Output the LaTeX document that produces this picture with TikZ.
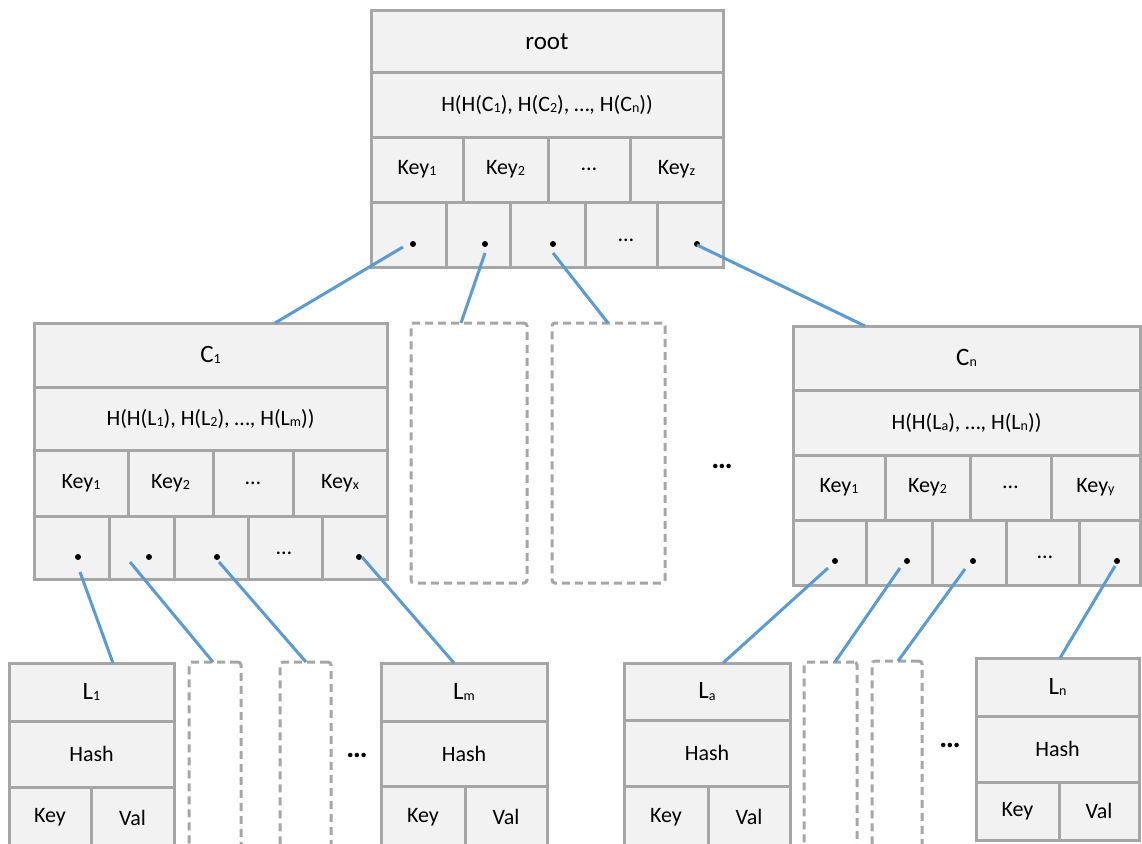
\documentclass[tikz,border=0pt]{standalone}
\usepackage{fontspec}
\setmainfont{Carlito}
\definecolor{boxgray}{HTML}{A6A6A6}
\definecolor{boxfill}{HTML}{F2F2F2}
\definecolor{linkblue}{HTML}{5B9BD5}
% small subscript as set in the cells
\newcommand\sbs[1]{\raisebox{-0.1ex}{\fontsize{14}{14}\selectfont #1}}
% a rectangular cell given by its corners (x1,y1) and (x2,y2)
\newcommand\boxat[7][cell]{%
  \node[#1, minimum width={(#5-#3)*1pt}, minimum height={(#6-#4)*1pt}]
    (#2) at ({(#3+#5)/2},{(#4+#6)/2}) {#7};}
\begin{document}
\begin{tikzpicture}[x=1pt,y=-1pt,
  cell/.style={draw=boxgray, fill=boxfill, line width=3pt, inner sep=0pt,
    outer sep=0pt, font=\fontsize{22}{26}\selectfont},
  titlecell/.style={cell, font=\fontsize{25}{28}\selectfont},
  dashbox/.style={draw=boxgray, line width=3pt, dash pattern=on 8pt off 5pt,
    rounded corners=3pt, inner sep=0pt, outer sep=0pt},
  ptrdot/.style={circle, fill=black, inner sep=0pt, minimum size=6pt},
  ell/.style={inner sep=0pt, font=\fontsize{22}{26}\selectfont},
  bigell/.style={inner sep=0pt, font=\fontsize{30}{32}\selectfont\bfseries},
  link/.style={draw=linkblue, line width=3pt}]
\useasboundingbox (0,0) rectangle (1142,843);
\clip (0,0) rectangle (1142,843);

% ---------- root ----------
\boxat[titlecell]{rootT}{371}{11}{723}{72}{root}
\boxat{rootH}{371}{72}{723}{137}{H(H(C\sbs{1}), H(C\sbs{2}), …, H(C\sbs{n}))}
\boxat{rk1}{371}{137}{463}{202}{Key\sbs{1}}
\boxat{rk2}{463}{137}{548}{202}{Key\sbs{2}}
\boxat{rk3}{548}{137}{630}{202}{…}
\boxat{rk4}{630}{137}{723}{202}{Key\sbs{z}}
\boxat{rp1}{371}{202}{446}{267}{}
\boxat{rp2}{446}{202}{510}{267}{}
\boxat{rp3}{510}{202}{585}{267}{}
\boxat{rp4}{585}{202}{657}{267}{}
\boxat{rp5}{657}{202}{723}{267}{}
\node[ptrdot] (rd1) at (413,244) {};
\node[ptrdot] (rd2) at (485,244) {};
\node[ptrdot] (rd3) at (553,244) {};
\node[ell] (rdots) at (626,240) {…};
\node[ptrdot] (rd5) at (697,244) {};

% ---------- C1 ----------
\boxat[titlecell]{c1T}{34}{323}{387}{387}{C\sbs{1}}
\boxat{c1H}{34}{387}{387}{450}{H(H(L\sbs{1}), H(L\sbs{2}), …, H(L\sbs{m}))}
\boxat{c1k1}{34}{450}{128}{516}{Key\sbs{1}}
\boxat{c1k2}{128}{450}{213}{516}{Key\sbs{2}}
\boxat{c1k3}{213}{450}{293}{516}{…}
\boxat{c1k4}{293}{450}{387}{516}{Key\sbs{x}}
\boxat{c1p1}{34}{516}{109}{579}{}
\boxat{c1p2}{109}{516}{174}{579}{}
\boxat{c1p3}{174}{516}{248}{579}{}
\boxat{c1p4}{248}{516}{322}{579}{}
\boxat{c1p5}{322}{516}{387}{579}{}
\node[ptrdot] (c1d1) at (78,557) {};
\node[ptrdot] (c1d2) at (149,557) {};
\node[ptrdot] (c1d3) at (217,557) {};
\node[ell] (c1dots) at (284,553) {…};
\node[ptrdot] (c1d5) at (359,557) {};

% ---------- Cn ----------
\boxat[titlecell]{cnT}{793}{326}{1140}{390}{C\sbs{n}}
\boxat{cnH}{793}{390}{1140}{455}{H(H(L\sbs{a}), …, H(L\sbs{n}))}
\boxat{cnk1}{793}{455}{885}{520}{Key\sbs{1}}
\boxat{cnk2}{885}{455}{970}{520}{Key\sbs{2}}
\boxat{cnk3}{970}{455}{1051}{520}{…}
\boxat{cnk4}{1051}{455}{1140}{520}{Key\sbs{y}}
\boxat{cnp1}{793}{520}{866}{585}{}
\boxat{cnp2}{866}{520}{932}{585}{}
\boxat{cnp3}{932}{520}{1006}{585}{}
\boxat{cnp4}{1006}{520}{1079}{585}{}
\boxat{cnp5}{1079}{520}{1140}{585}{}
\node[ptrdot] (cnd1) at (835,561) {};
\node[ptrdot] (cnd2) at (907,561) {};
\node[ptrdot] (cnd3) at (973,561) {};
\node[ell] (cndots) at (1045,557) {…};
\node[ptrdot] (cnd5) at (1117,561) {};

% ---------- placeholders for omitted children ----------
\boxat[dashbox]{d1}{411}{323}{527}{583}{}
\boxat[dashbox]{d2}{552}{323}{665}{583}{}
\boxat[dashbox]{d3}{189}{662}{241}{870}{}
\boxat[dashbox]{d4}{280}{662}{331}{870}{}
\boxat[dashbox]{d5}{804}{662}{857}{870}{}
\boxat[dashbox]{d6}{872}{661}{922}{870}{}
\node[bigell] (mdots) at (722,466) {…};
\node[bigell] (ldots) at (357,755) {…};
\node[bigell] (rdots2) at (950,745) {…};

% ---------- leaves ----------
\boxat[titlecell]{l1T}{9}{663}{174}{721}{L\sbs{1}}
\boxat{l1H}{9}{721}{174}{787}{Hash}
\boxat{l1K}{9}{787}{91}{848}{Key}
\boxat{l1V}{91}{787}{174}{848}{Val}

\boxat[titlecell]{lmT}{381}{663}{547}{721}{L\sbs{m}}
\boxat{lmH}{381}{721}{547}{786}{Hash}
\boxat{lmK}{381}{786}{465}{848}{Key}
\boxat{lmV}{465}{786}{547}{848}{Val}

\boxat[titlecell]{laT}{624}{663}{790}{720}{L\sbs{a}}
\boxat{laH}{624}{720}{790}{786}{Hash}
\boxat{laK}{624}{786}{708}{848}{Key}
\boxat{laV}{708}{786}{790}{848}{Val}

\boxat[titlecell]{lnT}{976}{658}{1139}{716}{L\sbs{n}}
\boxat{lnH}{976}{716}{1139}{782}{Hash}
\boxat{lnK}{976}{782}{1059}{840}{Key}
\boxat{lnV}{1059}{782}{1139}{840}{Val}

% ---------- pointer links ----------
\coordinate (rs1) at (403,247);  \coordinate (c1in) at (275,323);
\coordinate (rs2) at (485,253);  \coordinate (d1in) at (461,323);
\coordinate (rs3) at (553,253);  \coordinate (d2in) at (608,323);
\coordinate (rs5) at (697,245);  \coordinate (cnin) at (865,326);
\coordinate (c1s1) at (80,572);  \coordinate (l1in) at (113,663);
\coordinate (c1s2) at (130,562); \coordinate (d3in) at (213,662);
\coordinate (c1s3) at (219,562); \coordinate (d4in) at (306,662);
\coordinate (c1s5) at (362,557); \coordinate (lmin) at (454,663);
\coordinate (cns1) at (828,568); \coordinate (lain) at (723,663);
\coordinate (cns2) at (900,568); \coordinate (d5in) at (835,662);
\coordinate (cns3) at (965,569); \coordinate (d6in) at (898,661);
\coordinate (cns5) at (1115,566);\coordinate (lnin) at (1060,658);
\draw[link] (rs1) -- (c1in);
\draw[link] (rs2) -- (d1in);
\draw[link] (rs3) -- (d2in);
\draw[link] (rs5) -- (cnin);
\draw[link] (c1s1) -- (l1in);
\draw[link] (c1s2) -- (d3in);
\draw[link] (c1s3) -- (d4in);
\draw[link] (c1s5) -- (lmin);
\draw[link] (cns1) -- (lain);
\draw[link] (cns2) -- (d5in);
\draw[link] (cns3) -- (d6in);
\draw[link] (cns5) -- (lnin);
\end{tikzpicture}
\end{document}
